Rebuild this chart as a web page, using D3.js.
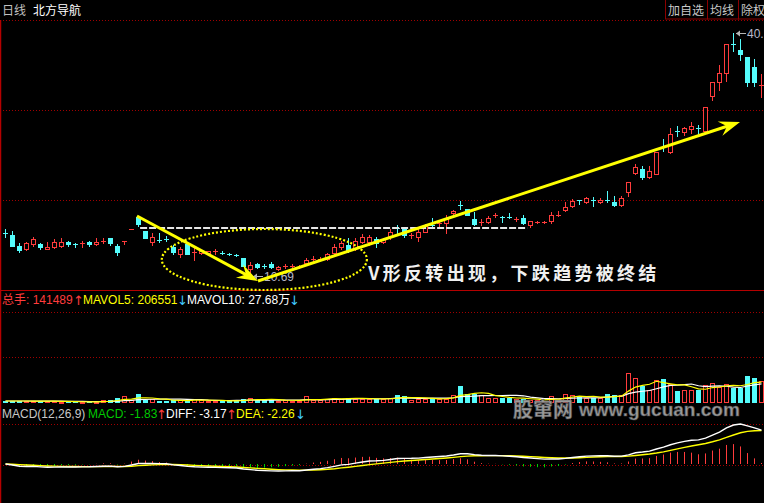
<!DOCTYPE html>
<html><head><meta charset="utf-8">
<script src="https://cdn.jsdelivr.net/npm/d3@7"></script>
<style>
html,body{margin:0;padding:0;background:#000;}
svg{display:block;}
</style></head><body>
<svg id="c" width="764" height="503"></svg>
<script>
// ---------------- DATA ----------------
const stockName = "北方导航";
const periodLabel = "日线";
const buttons = ["加自选", "均线", "除权"];

const opens = [15.94,15.70,14.36,13.99,14.60,14.60,13.99,14.23,14.36,14.84,
14.60,14.72,14.84,14.60,14.97,15.33,14.36,14.97,16.43,17.90,
16.19,14.84,15.09,15.21,14.23,13.38,14.60,13.62,13.50,13.50,
13.74,13.50,13.38,13.26,12.89,11.55,12.16,11.91,12.16,11.55,
11.91,11.91,11.79,12.28,12.77,12.77,12.77,13.50,14.23,14.48,
14.11,14.84,14.84,15.21,14.84,15.46,16.56,16.43,15.70,15.46,
16.07,16.92,17.17,17.17,18.39,19.37,18.88,17.65,17.29,17.29,
18.14,17.90,17.90,17.65,17.78,16.92,17.29,17.29,17.41,18.14,
18.75,19.24,19.98,19.73,19.98,19.73,19.98,19.73,19.37,20.95,
23.27,23.76,22.79,23.15,26.45,25.84,28.41,28.28,28.65,28.77,
28.41,32.68,34.39,35.49,39.04,38.30,37.45,36.23,34.03];
const closes = [15.93,14.36,13.87,14.72,15.21,14.23,14.23,14.84,14.84,14.60,
14.59,14.73,14.60,14.84,14.98,14.72,13.62,14.98,16.44,17.04,
15.33,15.46,15.08,15.20,13.62,13.99,13.38,13.63,13.74,13.74,
13.75,13.49,13.37,13.25,11.91,12.03,11.79,11.90,11.79,11.79,
11.92,11.92,11.80,12.64,12.78,12.78,13.38,14.23,14.72,13.87,
14.97,15.46,15.46,14.72,15.21,16.07,16.55,15.70,15.71,16.07,
16.92,16.91,17.18,17.65,18.63,19.36,18.14,17.04,17.30,17.78,
18.15,17.89,17.89,17.66,17.17,17.41,17.30,17.30,18.14,18.15,
19.12,19.85,19.97,20.22,19.97,19.98,19.97,19.37,20.22,22.18,
24.01,22.79,23.52,25.84,26.44,28.04,28.40,28.77,29.02,28.76,
31.34,34.39,35.49,39.04,39.03,37.81,34.39,34.39,34.04];
const highs = [16.43,16.19,14.72,14.84,15.46,14.72,14.84,15.21,15.33,14.97,
14.72,14.97,14.97,15.33,15.33,15.33,14.60,14.98,16.44,18.02,
16.19,15.94,15.94,15.58,14.48,14.23,14.60,14.11,13.87,13.74,
13.99,13.74,13.50,13.38,12.89,12.40,12.28,12.16,12.40,11.91,
12.16,12.16,12.03,12.89,13.13,13.01,13.50,14.60,14.97,15.33,
15.33,15.82,15.70,15.46,15.33,16.43,16.92,16.56,15.94,16.43,
17.04,17.78,17.53,18.14,18.75,19.85,18.88,18.51,17.65,18.02,
18.39,18.02,18.39,17.90,18.14,17.41,17.41,17.41,18.51,18.63,
19.73,20.10,19.98,20.34,20.34,20.22,21.08,20.46,20.46,22.18,
24.37,24.13,24.13,25.84,27.43,28.77,29.02,28.90,29.51,29.14,
31.34,34.39,36.47,39.04,40.38,39.65,37.45,37.20,35.37];
const lows = [15.46,14.36,13.62,13.87,14.36,13.99,13.99,14.11,14.23,14.36,
14.23,14.23,14.36,14.48,14.72,14.48,13.26,14.60,16.43,16.80,
15.33,14.48,14.84,14.97,13.38,13.01,13.38,12.64,13.38,13.38,
13.38,13.38,13.26,13.13,11.91,10.69,11.67,11.67,11.67,11.42,
11.67,11.79,11.67,12.03,12.52,12.64,12.64,13.38,13.99,13.62,
13.87,14.72,14.48,14.23,14.72,15.21,15.94,15.46,15.33,14.97,
16.07,16.68,16.68,15.94,18.14,18.88,18.14,16.92,16.92,17.17,
17.90,17.29,17.78,17.41,17.04,16.68,17.17,17.17,17.17,18.02,
18.63,19.12,19.49,19.61,19.24,19.61,19.73,19.24,19.24,20.46,
23.15,22.54,22.66,23.15,25.96,25.72,27.80,27.92,28.16,28.16,
28.41,32.19,33.42,34.52,38.18,37.08,33.90,33.90,32.56];
const volumes = [13000,13000,13000,13000,11000,13000,11000,11000,6500,8500,
8500,6500,8500,6500,17500,17500,30500,43500,17500,56500,
21500,24000,13000,13000,17500,17500,17500,28000,17500,13000,
13000,13000,13000,17500,24000,34500,17500,17500,28000,13000,
17500,13000,13000,43500,21500,21500,28000,32500,28000,34500,
28000,28000,24000,24000,28000,34500,50000,43500,17500,28000,
28000,34500,24000,28000,54000,108500,60500,60500,50000,34500,
34500,32500,32500,28000,28000,17500,17500,13000,43500,24000,
60500,54000,39000,32500,32500,32500,56500,50000,50000,197000,
164500,110500,86500,147500,154000,125500,76000,86500,86500,82500,
115000,132000,104000,125500,99500,99500,173500,164500,141489];

// header readouts
const volHeader = [
  {t:"总手: 141489", c:"#ff3c3c", x:2}, {t:"↑", c:"#ff3c3c", x:73, arrow:true},
  {t:"MAVOL5: 206551", c:"#ffff00", x:83}, {t:"↓", c:"#40c8ff", x:177, arrow:true},
  {t:"MAVOL10: 27.68万", c:"#ffffff", x:187}, {t:"↓", c:"#40c8ff", x:289, arrow:true}];
const macdHeader = [
  {t:"MACD(12,26,9)", c:"#c8c8c8", x:2},
  {t:"MACD: -1.83", c:"#00c800", x:88}, {t:"↑", c:"#ff3c3c", x:156, arrow:true},
  {t:"DIFF: -3.17", c:"#ffffff", x:166}, {t:"↑", c:"#ff3c3c", x:226, arrow:true},
  {t:"DEA: -2.26", c:"#ffff00", x:236}, {t:"↓", c:"#40c8ff", x:295, arrow:true}];

// annotations (bar index, price)
const resistance = {price:16.56, from:19.3, to:74.6};
const arrowDown = [[18.86,18.02],[36.14,10.08]];
const arrowUp = [[36.14,10.08],[105,29.51]];
const ellipseBars = [22.4,51.7], ellipsePrices = [8.98,16.43];
const note = {text:"V形反转出现，下跌趋势被终结", bar:51.9, price:10.2};
const lowMark = {bar:35, price:10.69, label:"10.69"};
const highMark = {bar:104, price:40.38, label:"40.38"};
const watermark = ["股窜网", "www.gucuan.com"];

// ---------------- DRAW ----------------
const W = 764, H = 503;
const RED = "#ff3c3c", CYAN = "#54fcfc", GRID = "#a00000", SEP = "#b40000";
const LAT = "'Liberation Sans', Arial, 'Noto Sans CJK SC', sans-serif";
const CJK = "'Noto Sans CJK SC', sans-serif";
const svg = d3.select("#c");
svg.append("rect").attr("width", W).attr("height", H).attr("fill", "#000");

const n = opens.length;
const data = opens.map((o, i) => ({i, o, c: closes[i], h: highs[i], l: lows[i], v: volumes[i]}));
const x = d3.scaleLinear().domain([0, n - 1]).range([5, 761]);
const yP = d3.scaleLinear().domain([d3.min(lows), d3.max(highs)]).range([276, 33]);
const yV = d3.scaleLinear().domain([0, 591500]).range([403, 312]);
const px = i => Math.round(x(i));
const up = d => d.c >= d.o;

// grid / frames
function hline(y, dotted, color, x1 = 0, x2 = W) {
  svg.append("line").attr("x1", x1).attr("x2", x2).attr("y1", y + 0.5).attr("y2", y + 0.5)
    .attr("stroke", color).attr("stroke-width", 1)
    .attr("stroke-dasharray", dotted ? "1,2" : null);
}
[20, 110, 200, 312, 357, 424, 465].forEach(y => hline(y, true, GRID));
hline(290, false, SEP);
svg.append("line").attr("x1", 0.5).attr("x2", 0.5).attr("y1", 20).attr("y2", H)
  .attr("stroke", SEP).attr("stroke-width", 1.5);

// top header
svg.append("text").attr("x", 2).attr("y", 15).attr("fill", "#c0c0c0")
  .attr("font-family", CJK).attr("font-size", 12).text(periodLabel);
svg.append("text").attr("x", 33).attr("y", 15).attr("fill", "#ffffff")
  .attr("font-family", CJK).attr("font-size", 12).text(stockName);
const bx = [665, 707, 738, 770];
buttons.forEach((b, k) => {
  svg.append("rect").attr("x", bx[k] + 0.5).attr("y", -1).attr("width", bx[k + 1] - bx[k])
    .attr("height", 20).attr("fill", "none").attr("stroke", "#8c0000");
  svg.append("text").attr("x", bx[k] + 3).attr("y", 15).attr("fill", "#c8c8c8")
    .attr("font-family", CJK).attr("font-size", 12).text(b);
});

// candles
const cg = svg.append("g");
data.forEach(d => {
  const p = px(d.i), cx = p + 0.5;
  const col = up(d) ? RED : CYAN;
  const top = Math.round(yP(Math.max(d.o, d.c))), bot = Math.round(yP(Math.min(d.o, d.c)));
  const hy = Math.round(yP(d.h)), ly = Math.round(yP(d.l));
  if (bot - top < 1) {
    cg.append("line").attr("x1", cx).attr("x2", cx).attr("y1", hy).attr("y2", ly + 1)
      .attr("stroke", col);
    cg.append("line").attr("x1", p - 2).attr("x2", p + 3).attr("y1", top + 0.5).attr("y2", top + 0.5)
      .attr("stroke", col);
  } else if (up(d)) {
    if (hy < top) cg.append("line").attr("x1", cx).attr("x2", cx).attr("y1", hy).attr("y2", top).attr("stroke", col);
    if (ly > bot) cg.append("line").attr("x1", cx).attr("x2", cx).attr("y1", bot + 1).attr("y2", ly + 1).attr("stroke", col);
    cg.append("rect").attr("x", p - 1.5).attr("y", top + 0.5).attr("width", 4).attr("height", bot - top)
      .attr("fill", "#000").attr("stroke", col);
  } else {
    cg.append("line").attr("x1", cx).attr("x2", cx).attr("y1", hy).attr("y2", ly + 1).attr("stroke", col);
    cg.append("rect").attr("x", p - 2).attr("y", top).attr("width", 5).attr("height", bot - top + 1)
      .attr("fill", col);
  }
});

// resistance dashed line
svg.append("line").attr("x1", x(resistance.from)).attr("x2", x(resistance.to))
  .attr("y1", yP(resistance.price)).attr("y2", yP(resistance.price))
  .attr("stroke", "#e6e6e6").attr("stroke-width", 2).attr("stroke-dasharray", "7,2");

// ellipse
svg.append("ellipse")
  .attr("cx", (x(ellipseBars[0]) + x(ellipseBars[1])) / 2)
  .attr("cy", (yP(ellipsePrices[0]) + yP(ellipsePrices[1])) / 2)
  .attr("rx", (x(ellipseBars[1]) - x(ellipseBars[0])) / 2)
  .attr("ry", (yP(ellipsePrices[0]) - yP(ellipsePrices[1])) / 2)
  .attr("fill", "none").attr("stroke", "#ffff00").attr("stroke-width", 2.2)
  .attr("stroke-dasharray", "2,2");

// low / high labels
function mark(m, dy) {
  const x0 = x(m.bar) + 3, y0 = Math.round(yP(m.price)) + 0.5;
  svg.append("line").attr("x1", x0).attr("x2", x0 + 10).attr("y1", y0).attr("y2", y0)
    .attr("stroke", "#b4b4b4");
  svg.append("path").attr("d", `M${x0},${y0}l4,-3v6z`).attr("fill", "#b4b4b4");
  svg.append("text").attr("x", x0 + 11).attr("y", y0 + dy).attr("fill", "#b8b8c8")
    .attr("font-family", LAT).attr("font-size", 12).text(m.label);
}
mark(lowMark, 4);
mark(highMark, 4.5);

// arrows
function arrow(seg) {
  const [a, b] = seg.map(([i, p]) => [x(i), yP(p)]);
  const dx = b[0] - a[0], dy = b[1] - a[1], L = Math.hypot(dx, dy);
  const ux = dx / L, uy = dy / L, nx = -uy, ny = ux;
  const HL = 21, HW = 7.5;
  svg.append("line").attr("x1", a[0]).attr("y1", a[1])
    .attr("x2", b[0] - ux * 12).attr("y2", b[1] - uy * 12)
    .attr("stroke", "#ffff00").attr("stroke-width", 3);
  const pts = [[b[0], b[1]],
    [b[0] - ux * HL + nx * HW, b[1] - uy * HL + ny * HW],
    [b[0] - ux * HL * 0.65, b[1] - uy * HL * 0.65],
    [b[0] - ux * HL - nx * HW, b[1] - uy * HL - ny * HW]];
  svg.append("polygon").attr("points", pts.map(p => p.join(",")).join(" ")).attr("fill", "#ffff00");
}
arrow(arrowDown);
arrow(arrowUp);

// note
svg.append("text").attr("x", x(note.bar)).attr("y", yP(note.price))
  .attr("fill", "#f0f0f0").attr("font-family", CJK).attr("font-weight", "bold")
  .attr("font-size", 18).attr("letter-spacing", 3.3).text(note.text);

// headers
function header(items, y) {
  items.forEach(it => svg.append("text").attr("x", it.x).attr("y", it.arrow ? y + 1 : y).attr("fill", it.c)
    .attr("font-family", it.arrow ? "'DejaVu Sans', sans-serif" : LAT)
    .attr("font-size", it.arrow ? 13 : 12).text(it.t));
}
header(volHeader, 304);

// volume bars
const vg = svg.append("g");
data.forEach(d => {
  const p = px(d.i), ty = Math.round(yV(d.v));
  if (up(d)) {
    vg.append("rect").attr("x", p - 1.5).attr("y", ty + 0.5).attr("width", 4)
      .attr("height", Math.max(1, 402 - ty)).attr("fill", "#000").attr("stroke", RED);
  } else {
    vg.append("rect").attr("x", p - 2).attr("y", ty).attr("width", 5)
      .attr("height", 403 - ty).attr("fill", CYAN);
  }
});
function ma(arr, k) {
  return arr.map((v, i) => d3.mean(arr.slice(Math.max(0, i - k + 1), i + 1)));
}
const ma5 = ma(volumes, 5), ma10 = ma(volumes, 10);
const lineV = d3.line().x((v, i) => x(i) + 0.5).y(v => yV(v));
svg.append("path").attr("d", lineV(ma10)).attr("fill", "none").attr("stroke", "#ffffff").attr("stroke-width", 1.2);
svg.append("path").attr("d", lineV(ma5)).attr("fill", "none").attr("stroke", "#ffff00").attr("stroke-width", 1.2);

// MACD
function ema(arr, k) {
  const a = 2 / (k + 1), out = [];
  arr.forEach((v, i) => out.push(i === 0 ? v : out[i - 1] + a * (v - out[i - 1])));
  return out;
}
const e12 = ema(closes, 12), e26 = ema(closes, 26);
const diff = e12.map((v, i) => v - e26[i]);
const dea = ema(diff, 9);
const hist = diff.map((v, i) => 2 * (v - dea[i]));
const yM = d3.scaleLinear().domain([0, d3.max(diff)]).range([464, 424]);
const mg = svg.append("g");
hist.forEach((h, i) => {
  const cx = px(i) + 0.5;
  mg.append("line").attr("x1", cx).attr("x2", cx).attr("y1", yM(0)).attr("y2", yM(h))
    .attr("stroke", h >= 0 ? RED : "#00d000").attr("stroke-width", 1);
});
const lineM = d3.line().x((v, i) => x(i) + 0.5).y(v => yM(v));
svg.append("path").attr("d", lineM(dea)).attr("fill", "none").attr("stroke", "#ffff00").attr("stroke-width", 1.4);
svg.append("path").attr("d", lineM(diff)).attr("fill", "none").attr("stroke", "#ffffff").attr("stroke-width", 1.4);
header(macdHeader, 418);

// watermark
svg.append("text").attr("x", 513).attr("y", 417).attr("fill", "#9a9a9a")
  .attr("stroke", "#505050").attr("stroke-width", 0.6)
  .attr("font-family", CJK).attr("font-weight", "bold").attr("font-size", 20).text(watermark[0]);
svg.append("text").attr("x", 579).attr("y", 416).attr("fill", "#9a9a9a")
  .attr("stroke", "#505050").attr("stroke-width", 0.6)
  .attr("font-family", LAT).attr("font-weight", "bold").attr("font-size", 19).text(watermark[1]);
</script>
</body></html>
